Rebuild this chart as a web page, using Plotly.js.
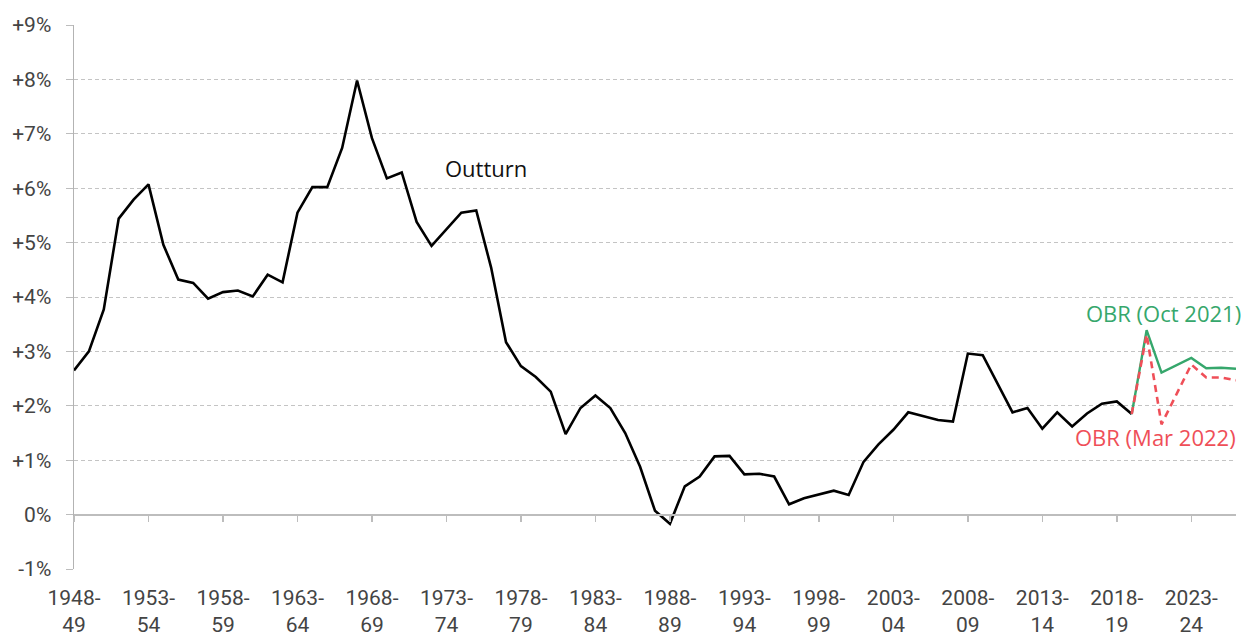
<!DOCTYPE html>
<html>
<head>
<meta charset="utf-8">
<script src="https://cdn.plot.ly/plotly-3.0.1.min.js"></script>
<style>html,body{margin:0;padding:0;background:#fff;}#chart{width:1252px;height:637px;}</style>
</head>
<body>
<div id="chart"></div>
<script>
// Fiscal years 1948-49 .. 2026-27
const startYear = 1948;
const nYears = 79;
const years = [];
for (let i = 0; i < nYears; i++) {
  const a = startYear + i;
  const b = String((a + 1) % 100).padStart(2, '0');
  years.push(a + '-' + b);
}

// Outturn, 1948-49 .. 2019-20 (% growth)
const outturn = [
  2.65, 3.00, 3.77, 5.44, 5.79, 6.07, 4.96, 4.32, 4.26, 3.97,
  4.09, 4.12, 4.01, 4.41, 4.27, 5.55, 6.02, 6.02, 6.74, 7.98,
  6.92, 6.18, 6.29, 5.38, 4.94, 5.24, 5.55, 5.59, 4.54, 3.17,
  2.73, 2.53, 2.26, 1.48, 1.96, 2.19, 1.96, 1.50, 0.88, 0.07,
  -0.17, 0.52, 0.70, 1.07, 1.08, 0.74, 0.75, 0.70, 0.19, 0.30,
  0.37, 0.44, 0.36, 0.97, 1.29, 1.56, 1.88, 1.81, 1.74, 1.71,
  2.96, 2.93, 2.40, 1.88, 1.96, 1.58, 1.88, 1.62, 1.86, 2.04,
  2.08, 1.85
];
// OBR forecasts, 2019-20 .. 2026-27
const obrOct2021 = [1.85, 3.39, 2.61, 2.74, 2.88, 2.69, 2.70, 2.68];
const obrMar2022 = [1.85, 3.31, 1.66, 2.21, 2.76, 2.52, 2.52, 2.47];

const outturnYears = years.slice(0, outturn.length);
const fcYears = years.slice(outturn.length - 1);

const tickVals = [];
const tickText = [];
for (let i = 0; i < nYears; i += 5) {
  tickVals.push(years[i]);
  const p = years[i].split('-');
  tickText.push(p[0] + '-<br>' + p[1]);
}
const yTickVals = [-1, 0, 1, 2, 3, 4, 5, 6, 7, 8, 9];
const yTickText = yTickVals.map(v => v > 0 ? '+' + v + '%' : v + '%');

const GREEN = '#36a76c';
const RED = '#ef4f58';
const FONT = 'Roboto, "Liberation Sans", sans-serif';
const ANN_FONT = '"Open Sans", "DejaVu Sans", sans-serif';

const traces = [
  {x: outturnYears, y: outturn, type: 'scatter', mode: 'lines',
   line: {color: '#000', width: 2.6}, hoverinfo: 'x+y'},
  {x: fcYears, y: obrOct2021, type: 'scatter', mode: 'lines',
   line: {color: GREEN, width: 2.4}},
  {x: fcYears, y: obrMar2022, type: 'scatter', mode: 'lines',
   line: {color: RED, width: 2.6, dash: '7px,5px'}}
];

const layout = {
  width: 1252, height: 637,
  margin: {l: 74, r: 16, t: 25, b: 68},
  paper_bgcolor: '#fff', plot_bgcolor: '#fff',
  showlegend: false,
  font: {family: FONT, size: 21, color: '#444'},
  xaxis: {
    type: 'category', categoryorder: 'array', categoryarray: years,
    range: [0, nYears - 1],
    anchor: 'free', position: 0.1,
    showline: true, linecolor: '#bdbdbd', linewidth: 2,
    ticks: 'outside', ticklen: 6, tickwidth: 1.5, tickcolor: '#bdbdbd',
    tickvals: tickVals, ticktext: tickText,
    ticklabelstandoff: 58,
    showgrid: false, zeroline: false, fixedrange: true
  },
  yaxis: {
    range: [-1, 9],
    tickvals: yTickVals, ticktext: yTickText,
    showline: true, linecolor: '#b3b3b3', linewidth: 1.5,
    ticks: 'outside', ticklen: 7, tickwidth: 1, tickcolor: '#bdbdbd',
    ticklabelstandoff: 10,
    showgrid: true, gridcolor: '#c4c4c4', gridwidth: 1, griddash: '4px,3px',
    zeroline: false, fixedrange: true
  },
  annotations: [
    {text: 'Outturn', xref: 'paper', yref: 'paper', x: 0.3546, y: 0.737,
     xanchor: 'center', yanchor: 'middle', showarrow: false,
     font: {family: ANN_FONT, size: 22, color: '#111'}},
    {text: 'OBR (Oct 2021)', xref: 'paper', yref: 'paper', x: 1.006, y: 0.4706,
     xanchor: 'right', yanchor: 'middle', showarrow: false,
     font: {family: ANN_FONT, size: 22, color: GREEN}},
    {text: 'OBR (Mar 2022)', xref: 'paper', yref: 'paper', x: 1.0017, y: 0.2426,
     xanchor: 'right', yanchor: 'middle', showarrow: false,
     font: {family: ANN_FONT, size: 22, color: RED}}
  ]
};

Plotly.newPlot('chart', traces, layout, {displayModeBar: false, staticPlot: true});
</script>
</body>
</html>
